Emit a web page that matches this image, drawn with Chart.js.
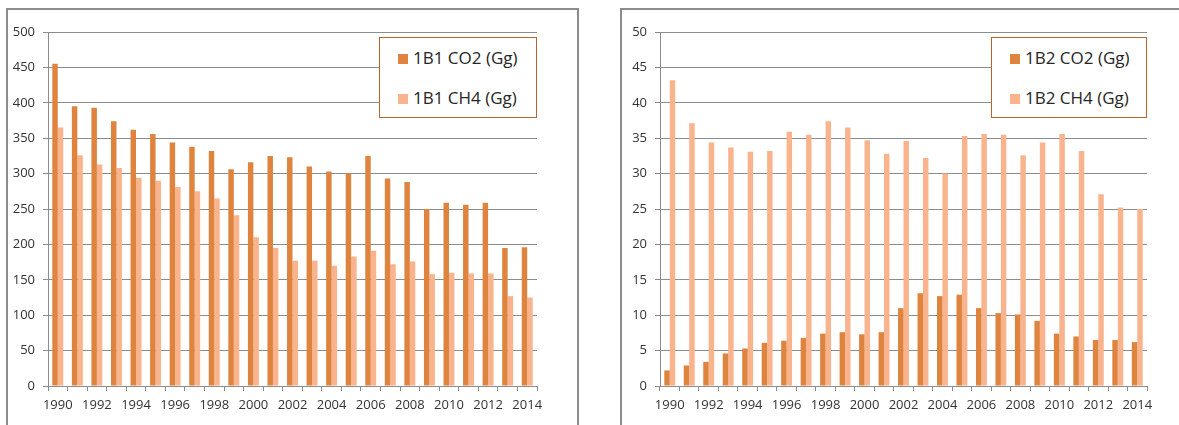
<!DOCTYPE html>
<html>
<head>
<meta charset="utf-8">
<script src="https://cdn.jsdelivr.net/npm/chart.js@4/dist/chart.umd.min.js"></script>
<style>
  body { margin: 0; background: #fff; width: 1179px; height: 425px; overflow: hidden; position: relative; font-family: "Open Sans", sans-serif; }
  .frame { position: absolute; border: 2px solid #8c8c8c; }
  .wrap { position: absolute; top: 0; height: 425px; }
  .legend { position: absolute; border: 1.5px solid #b5652f; background: #fff; box-sizing: border-box; }
  .legend .item { position: absolute; left: 18px; font-size: 17px; color: #262626; white-space: nowrap; line-height: 20px; }
  .legend .sw { display: inline-block; width: 10px; height: 10px; margin-right: 5px; vertical-align: 0px; }
</style>
</head>
<body>
<div class="frame" style="left:6px; top:8px; width:569px; height:440px;"></div>
<div class="frame" style="left:620px; top:8px; width:600px; height:440px;"></div>

<div class="wrap" style="left:0; width:590px;"><canvas id="chart1"></canvas></div>
<div class="wrap" style="left:600px; width:579px;"><canvas id="chart2"></canvas></div>
<div class="legend" id="legend1" style="left:379px; top:37px; width:158px; height:81px;"></div>
<div class="legend" id="legend2" style="left:991px; top:37px; width:156px; height:81px;"></div>

<script>
// years on the x axis
var years = [1990, 1991, 1992, 1993, 1994, 1995, 1996, 1997, 1998, 1999, 2000, 2001, 2002,
             2003, 2004, 2005, 2006, 2007, 2008, 2009, 2010, 2011, 2012, 2013, 2014];

// 1B1 series (Gg)
var co2_1B1 = [455, 395, 393, 374, 362, 356, 344, 338, 332, 306, 316, 325, 323,
               310, 303, 300, 325, 293, 288, 250, 259, 256, 259, 195, 196];
var ch4_1B1 = [365, 326, 313, 308, 294, 290, 281, 275, 265, 241, 210, 195, 177,
               177, 170, 183, 191, 172, 176, 158, 160, 159, 159, 127, 125];

// 1B2 series (Gg)
var co2_1B2 = [2.2, 2.9, 3.4, 4.6, 5.3, 6.1, 6.4, 6.8, 7.4, 7.6, 7.3, 7.6, 11.0,
               13.1, 12.7, 12.9, 11.0, 10.3, 10.1, 9.2, 7.4, 7.0, 6.5, 6.5, 6.2];
var ch4_1B2 = [43.2, 37.1, 34.4, 33.7, 33.1, 33.2, 35.9, 35.5, 37.4, 36.5, 34.7, 32.8, 34.6,
               32.2, 30.0, 35.3, 35.6, 35.5, 32.6, 34.4, 35.6, 33.2, 27.1, 25.2, 25.0];

var darkOrange = '#de843f';
var lightOrange = '#f9b48d';
var gridGrey = '#8c8c8c';
var textGrey = '#333333';

function makeChart(id, legendId, labels, series, yMax, yStep, yWidth, rightPad) {
  var ctx = document.getElementById(id).getContext('2d');
  var chart = new Chart(ctx, {
    type: 'bar',
    data: {
      labels: years,
      datasets: [
        { label: labels[0], data: series[0], backgroundColor: darkOrange, borderWidth: 0 },
        { label: labels[1], data: series[1], backgroundColor: lightOrange, borderWidth: 0 }
      ]
    },
    options: {
      responsive: true,
      maintainAspectRatio: false,
      animation: false,
      categoryPercentage: 0.56,
      barPercentage: 1.0,
      layout: { padding: { top: 32, right: rightPad, bottom: 0, left: 0 } },
      plugins: {
        legend: { display: false },
        tooltip: { enabled: false }
      },
      scales: {
        x: {
          offset: true,
          grid: { display: true, drawOnChartArea: false, drawTicks: true, tickLength: 5, color: gridGrey, offset: true },
          border: { color: gridGrey, width: 1 },
          ticks: {
            autoSkip: false, maxRotation: 0, minRotation: 0, padding: 6,
            color: textGrey, font: { family: 'Open Sans', size: 13 },
            callback: function (v, i) { return i % 2 === 0 ? this.getLabelForValue(v) : ''; }
          },
          afterFit: function (s) { s.height = 39; }
        },
        y: {
          min: 0, max: yMax,
          grid: { color: gridGrey, tickLength: 5, lineWidth: 1 },
          border: { color: gridGrey, width: 1 },
          ticks: { stepSize: yStep, padding: 8, color: textGrey, font: { family: 'Open Sans', size: 13 } },
          afterFit: function (s) { s.width = yWidth; }
        }
      }
    }
  });

  // legend box inside the plot, built from the chart's own items
  var box = document.getElementById(legendId);
  chart.options.plugins.legend.labels.generateLabels(chart).forEach(function (item, i) {
    var row = document.createElement('div');
    row.className = 'item';
    row.style.top = (10 + i * 40) + 'px';
    row.innerHTML = '<span class="sw" style="background:' + item.fillStyle + '"></span>' + item.text;
    box.appendChild(row);
  });
  return chart;
}

makeChart('chart1', 'legend1', ['1B1 CO2 (Gg)', '1B1 CH4 (Gg)'], [co2_1B1, ch4_1B1], 500, 50, 48, 53);
makeChart('chart2', 'legend2', ['1B2 CO2 (Gg)', '1B2 CH4 (Gg)'], [co2_1B2, ch4_1B2], 50, 5, 60, 32);
</script>
</body>
</html>
